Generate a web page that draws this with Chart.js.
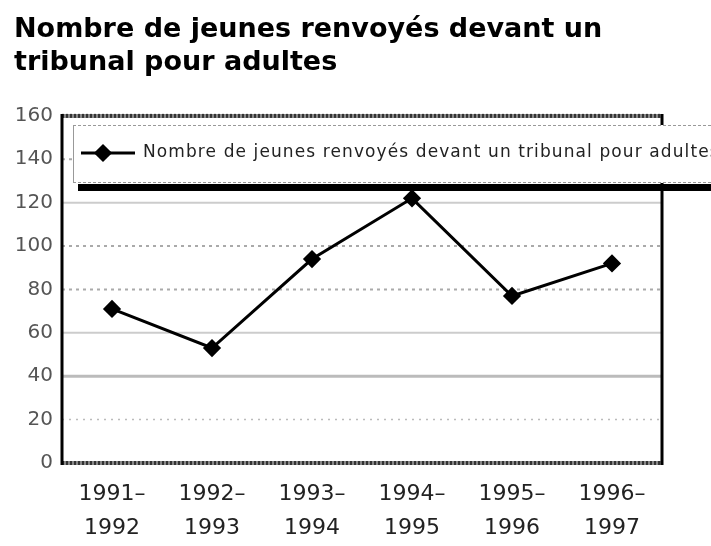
<!DOCTYPE html>
<html>
<head>
<meta charset="utf-8">
<script src="https://cdn.jsdelivr.net/npm/chart.js@4/dist/chart.umd.min.js"></script>
<style>
  html, body { margin: 0; padding: 0; background: #fff; }
  #wrap { width: 711px; height: 546px; }
</style>
</head>
<body>
<div id="wrap"><canvas id="chart"></canvas></div>
<script>
// data
const titleLines = ["Nombre de jeunes renvoyés devant un", "tribunal pour adultes"];
const seriesLabel = "Nombre de jeunes renvoyés devant un tribunal pour adultes";
const periods = [
  ["1991–", "1992"], ["1992–", "1993"], ["1993–", "1994"],
  ["1994–", "1995"], ["1995–", "1996"], ["1996–", "1997"]
];
const youthCounts = [71, 53, 94, 122, 77, 92];
const yMin = 0, yMax = 160, yStep = 20;

// grid line look per tick value
const gridStyle = {
  20: { color: "#bbb", width: 1.5, dash: [2, 5] },
  40: { color: "#bbb", width: 3, dash: [] },
  60: { color: "#ccc", width: 2, dash: [] },
  80: { color: "#aaa", width: 2, dash: [3, 4] },
  100: { color: "#aaa", width: 2, dash: [3, 4] },
  120: { color: "#ccc", width: 2, dash: [] },
  140: { color: "#aaa", width: 2, dash: [3, 4] }
};

const gridPlugin = {
  id: "oldGrid",
  beforeDatasetsDraw(chart) {
    const { ctx, chartArea: a, scales } = chart;
    ctx.save();
    scales.y.ticks.forEach(t => {
      const s = gridStyle[t.value];
      if (!s) return;
      const y = scales.y.getPixelForValue(t.value);
      ctx.strokeStyle = s.color;
      ctx.lineWidth = s.width;
      ctx.setLineDash(s.dash);
      ctx.beginPath();
      ctx.moveTo(a.left, y);
      ctx.lineTo(a.right, y);
      ctx.stroke();
    });
    ctx.setLineDash([]);
    // hatched top and bottom edges
    [a.top, a.bottom].forEach(y => {
      ctx.lineWidth = 4;
      ctx.strokeStyle = "#888";
      ctx.beginPath(); ctx.moveTo(a.left, y); ctx.lineTo(a.right, y); ctx.stroke();
      ctx.strokeStyle = "#333";
      ctx.setLineDash([2, 2]);
      ctx.beginPath(); ctx.moveTo(a.left, y); ctx.lineTo(a.right, y); ctx.stroke();
      ctx.setLineDash([]);
    });
    // left axis and right edge
    ctx.strokeStyle = "#000";
    ctx.lineWidth = 3;
    ctx.beginPath();
    ctx.moveTo(a.left, a.top - 2); ctx.lineTo(a.left, a.bottom + 2);
    ctx.moveTo(a.right, a.top - 2); ctx.lineTo(a.right, a.bottom + 2);
    ctx.stroke();
    ctx.restore();
  }
};

const legendPlugin = {
  id: "boxLegend",
  afterDraw(chart) {
    const { ctx } = chart;
    const ds = chart.data.datasets[0];
    const x0 = 73, y0 = 125, h = 58;
    ctx.save();
    // shadow
    ctx.fillStyle = "#000";
    ctx.fillRect(x0 + 5, y0 + h + 1, chart.width, 7);
    // box
    ctx.fillStyle = "#fff";
    ctx.fillRect(x0, y0, chart.width, h);
    ctx.strokeStyle = "#999";
    ctx.lineWidth = 1;
    ctx.setLineDash([3, 2]);
    ctx.beginPath();
    ctx.moveTo(x0, y0 + 0.5); ctx.lineTo(chart.width, y0 + 0.5);
    ctx.moveTo(x0, y0 + h - 0.5); ctx.lineTo(chart.width, y0 + h - 0.5);
    ctx.stroke();
    ctx.setLineDash([]);
    ctx.beginPath();
    ctx.moveTo(x0 + 0.5, y0); ctx.lineTo(x0 + 0.5, y0 + h);
    ctx.stroke();
    // sample line + marker
    const ly = y0 + 28;
    ctx.strokeStyle = ds.borderColor;
    ctx.lineWidth = 3;
    ctx.beginPath();
    ctx.moveTo(81, ly); ctx.lineTo(135, ly);
    ctx.stroke();
    Chart.helpers.drawPoint(ctx, { pointStyle: ds.pointStyle, radius: ds.pointRadius, borderWidth: 1 }, 103, ly);
    ctx.fillStyle = ds.pointBackgroundColor;
    ctx.fill();
    // text
    ctx.fillStyle = "#222";
    ctx.font = "17px 'DejaVu Sans'";
    ctx.letterSpacing = "1.1px";
    ctx.textBaseline = "middle";
    ctx.fillText(ds.label, 143, ly);
    ctx.restore();
  }
};

new Chart(document.getElementById("chart"), {
  type: "line",
  data: {
    labels: periods,
    datasets: [{
      label: seriesLabel,
      data: youthCounts,
      borderColor: "#000",
      borderWidth: 3,
      pointStyle: "rectRot",
      pointRadius: 7,
      pointBackgroundColor: "#000",
      pointBorderColor: "#000",
      tension: 0
    }]
  },
  options: {
    responsive: true,
    maintainAspectRatio: false,
    animation: false,
    layout: { padding: { left: 14, right: 49, top: 14, bottom: 0 } },
    plugins: {
      legend: { display: false },
      tooltip: { enabled: false },
      title: {
        display: true,
        text: titleLines,
        align: "start",
        color: "#000",
        font: { family: "'DejaVu Sans'", size: 27, weight: "bold", lineHeight: 1.22 },
        padding: { top: 0, bottom: 36 }
      }
    },
    scales: {
      x: {
        offset: true,
        grid: { display: false, drawTicks: false },
        border: { display: false },
        ticks: {
          color: "#222",
          padding: 14,
          maxRotation: 0,
          autoSkip: false,
          font: { family: "'DejaVu Sans'", size: 22, lineHeight: 1.55 }
        },
        afterFit(s) { s.height = 83; }
      },
      y: {
        min: yMin,
        max: yMax,
        grid: { display: false, drawTicks: false },
        border: { display: false },
        ticks: {
          stepSize: yStep,
          color: "#555",
          padding: 9,
          font: { family: "'DejaVu Sans'", size: 20 }
        },
        afterFit(s) { s.width = 48; }
      }
    }
  },
  plugins: [gridPlugin, legendPlugin]
});
</script>
</body>
</html>
